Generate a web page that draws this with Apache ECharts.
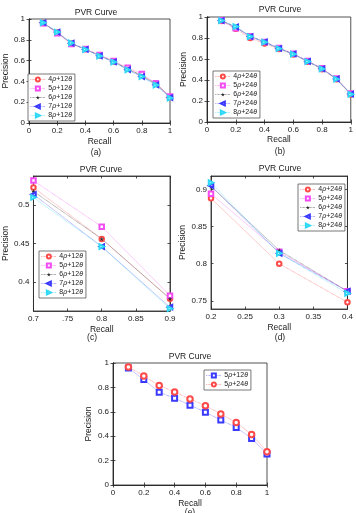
<!DOCTYPE html>
<html>
<head>
<meta charset="utf-8">
<script src="https://cdn.jsdelivr.net/npm/echarts@6/dist/echarts.min.js"></script>
<style>
  html, body { margin: 0; padding: 0; background: #fff; }
  #chart { width: 356px; height: 513px; }
</style>
</head>
<body>
<div id="chart"></div>
<script>
// recall levels
const recall = [0.1, 0.2, 0.3, 0.4, 0.5, 0.6, 0.7, 0.8, 0.9, 1.0]

// precision, 12 theta bins
const p4_12 = [0.962, 0.870, 0.762, 0.710, 0.650, 0.592, 0.523, 0.456, 0.378, 0.250]
const p5_12 = [0.958, 0.864, 0.760, 0.712, 0.654, 0.597, 0.532, 0.472, 0.382, 0.255]
const p6_12 = [0.962, 0.872, 0.765, 0.710, 0.648, 0.590, 0.518, 0.456, 0.378, 0.250]
const p7_12 = [0.964, 0.874, 0.768, 0.708, 0.646, 0.588, 0.514, 0.446, 0.367, 0.245]
const p8_12 = [0.964, 0.875, 0.770, 0.706, 0.644, 0.586, 0.510, 0.446, 0.365, 0.240]

// precision, 24 theta bins
const p4_24 = [0.962, 0.888, 0.800, 0.748, 0.696, 0.644, 0.574, 0.503, 0.408, 0.262]
const p5_24 = [0.968, 0.894, 0.816, 0.763, 0.705, 0.650, 0.582, 0.512, 0.414, 0.272]
const p6_24 = [0.966, 0.904, 0.818, 0.763, 0.702, 0.650, 0.578, 0.508, 0.412, 0.268]
const p7_24 = [0.966, 0.905, 0.814, 0.763, 0.700, 0.648, 0.578, 0.507, 0.410, 0.266]
const p8_24 = [0.966, 0.909, 0.814, 0.760, 0.698, 0.646, 0.576, 0.505, 0.408, 0.264]

// tick labels
const ticksFull = [0, 0.2, 0.4, 0.6, 0.8, 1]
const ticksCx = [0.7, 0.75, 0.8, 0.85, 0.9]
const labelsCx = ['0.7', '.75', '0.8', '0.85', '0.9']
const ticksCy = [0.4, 0.45, 0.5]
const ticksDx = [0.2, 0.25, 0.3, 0.35, 0.4]
const labelsDx = ['0.2', '0.25', '0.3', '0.35', '0.4']
const ticksDy = [0.75, 0.8, 0.85, 0.9]

const FONT = '"Liberation Sans", Arial, sans-serif'
const AXIS = '#262626'
const RED = '#ff4a4a'
const MAGENTA = '#f24cf2'
const BLACK = '#2a2a2a'
const BLUE = '#3a3aff'
const CYAN = '#2fd8f5'
const STAR = 'path://M50,0 L61,35 L98,35 L68,57 L79,91 L50,70 L21,91 L32,57 L2,35 L39,35 Z'

const panels = [
  { left: 22, top: 19, width: 148, height: 104, xmin: 0, xmax: 1, ymin: 0, ymax: 1,
    xt: ticksFull, yt: ticksFull, yGap: 12, xGap: 14 },
  { left: 207, top: 17, width: 145, height: 105, xmin: 0, xmax: 1, ymin: 0, ymax: 1,
    xt: ticksFull, yt: ticksFull, yGap: 15, xGap: 11 },
  { left: 32, top: 176, width: 138, height: 135, xmin: 0.7, xmax: 0.9, ymin: 0.362, ymax: 0.538,
    xt: ticksCx, xl: labelsCx, yt: ticksCy, yGap: 17, xGap: 14 },
  { left: 211, top: 176, width: 137, height: 133, xmin: 0.2, xmax: 0.4, ymin: 0.739, ymax: 0.918,
    xt: ticksDx, xl: labelsDx, yt: ticksDy, yGap: 20, xGap: 14 },
  { left: 113, top: 363, width: 154, height: 122, xmin: 0, xmax: 1, ymin: 0, ymax: 1,
    xt: ticksFull, yt: ticksFull, yGap: 20, xGap: 14 }
]

const styles = {
  r4: { color: RED, symbol: 'emptyCircle', rotate: 0 },
  r5: { color: MAGENTA, symbol: 'emptyRect', rotate: 0 },
  r6: { color: BLACK, symbol: STAR, rotate: 0 },
  r7: { color: BLUE, symbol: 'emptyTriangle', rotate: 90 },
  r8: { color: CYAN, symbol: 'emptyTriangle', rotate: -90 }
}

// legend label text for each series id
const labels = {}

function legendText(rho, theta) {
  return '{t|' + rho + '}{g|ρ}{t|+' + theta + '}{g|θ}'
}

function pairs(xs, ys) {
  return xs.map((x, i) => [x, ys[i]])
}

function makeSeries(id, panel, style, xs, ys, text, size) {
  labels[id] = text
  return {
    name: id,
    type: 'line',
    xAxisIndex: panel * 2,
    yAxisIndex: panel * 2,
    data: pairs(xs, ys),
    symbol: style.symbol,
    symbolRotate: style.rotate,
    symbolSize: size || 4.5,
    showSymbol: true,
    itemStyle: { color: style.color, borderWidth: 0.8 },
    lineStyle: { color: style.color, width: 0.7, type: 'dotted', opacity: 0.8 },
    emphasis: { disabled: true },
    animation: false
  }
}

const series12 = [['r4', 4, p4_12], ['r5', 5, p5_12], ['r6', 6, p6_12], ['r7', 7, p7_12], ['r8', 8, p8_12]]
const series24 = [['r4', 4, p4_24], ['r5', 5, p5_24], ['r6', 6, p6_24], ['r7', 7, p7_24], ['r8', 8, p8_24]]

const series = []
series12.forEach(([k, rho, ys]) => {
  series.push(makeSeries('a' + rho, 0, styles[k], recall, ys, legendText(rho, 12)))
})
series24.forEach(([k, rho, ys]) => {
  series.push(makeSeries('b' + rho, 1, styles[k], recall, ys, legendText(rho, 24)))
})
series12.forEach(([k, rho, ys]) => {
  series.push(makeSeries('c' + rho, 2, styles[k], recall.slice(6, 9), ys.slice(6, 9), legendText(rho, 12)))
})
series24.forEach(([k, rho, ys]) => {
  series.push(makeSeries('d' + rho, 3, styles[k], recall.slice(1, 4), ys.slice(1, 4), legendText(rho, 24)))
})
series.push(makeSeries('e12', 4, { color: BLUE, symbol: 'emptyRect', rotate: 0 }, recall, p5_12, legendText(5, 12), 5))
series.push(makeSeries('e24', 4, { color: RED, symbol: 'emptyCircle', rotate: 0 }, recall, p5_24, legendText(5, 24), 5.5))

const tickLabel = { fontFamily: FONT, fontSize: 8, color: '#1a1a1a' }

const grids = []
const xAxes = []
const yAxes = []
panels.forEach((p, i) => {
  grids.push({
    left: p.left, top: p.top, width: p.width, height: p.height,
    show: true, borderColor: AXIS, borderWidth: 0.8, backgroundColor: '#fff'
  })
  const common = {
    gridIndex: i,
    type: 'value',
    axisLine: { show: true, lineStyle: { color: AXIS, width: 0.8 } },
    axisTick: { show: true, inside: true, length: 2.5, lineStyle: { color: AXIS, width: 0.8 } },
    splitLine: { show: false }
  }
  xAxes.push({
    ...common,
    position: 'bottom',
    min: p.xmin, max: p.xmax,
    axisTick: { ...common.axisTick, customValues: p.xt },
    axisLabel: {
      ...tickLabel, margin: 4, customValues: p.xt,
      formatter: v => {
        if (!p.xl) return String(+v.toFixed(2))
        const k = p.xt.findIndex(t => Math.abs(t - v) < 1e-6)
        return k >= 0 ? p.xl[k] : ''
      }
    },
    name: 'Recall',
    nameLocation: 'middle',
    nameGap: p.xGap,
    nameTextStyle: { fontFamily: FONT, fontSize: 8.5, color: '#1a1a1a' }
  })
  xAxes.push({
    ...common,
    position: 'top',
    min: p.xmin, max: p.xmax,
    axisTick: { ...common.axisTick, customValues: p.xt },
    axisLabel: { show: false }
  })
  yAxes.push({
    ...common,
    position: 'left',
    min: p.ymin, max: p.ymax,
    axisTick: { ...common.axisTick, customValues: p.yt },
    axisLabel: {
      ...tickLabel, margin: 4, customValues: p.yt,
      formatter: v => String(+v.toFixed(2))
    },
    name: 'Precision',
    nameLocation: 'middle',
    nameGap: p.yGap,
    nameTextStyle: { fontFamily: FONT, fontSize: 8.5, color: '#1a1a1a' }
  })
  yAxes.push({
    ...common,
    position: 'right',
    min: p.ymin, max: p.ymax,
    axisTick: { ...common.axisTick, customValues: p.yt },
    axisLabel: { show: false }
  })
})

function legend(ids, left, top) {
  return {
    data: ids,
    orient: 'vertical',
    left: left,
    top: top,
    itemWidth: 15,
    itemHeight: 5,
    itemGap: 2,
    padding: [2, 3, 2, 2],
    selectedMode: false,
    backgroundColor: '#fff',
    borderColor: '#555',
    borderWidth: 0.8,
    itemStyle: { borderWidth: 0.8 },
    lineStyle: { width: 0.7 },
    formatter: name => labels[name],
    textStyle: {
      fontFamily: FONT, fontSize: 7, color: '#1a1a1a', padding: [0, 0, 0, -2],
      rich: {
        t: { fontFamily: FONT, fontSize: 7, color: '#1a1a1a' },
        g: { fontFamily: FONT, fontSize: 7, fontStyle: 'italic', color: '#1a1a1a' }
      }
    }
  }
}

const legends = [
  legend(['a4', 'a5', 'a6', 'a7', 'a8'], 28, 74),
  legend(['b4', 'b5', 'b6', 'b7', 'b8'], 213, 71),
  legend(['c4', 'c5', 'c6', 'c7', 'c8'], 39, 251),
  legend(['d4', 'd5', 'd6', 'd7', 'd8'], 298, 184),
  legend(['e12', 'e24'], 204, 370)
]

function text(str, x, y, size) {
  return {
    type: 'text', x: x, y: y, z: 10,
    style: {
      text: str, fill: '#1a1a1a', font: size + 'px ' + FONT,
      textAlign: 'center', textVerticalAlign: 'middle'
    }
  }
}

const graphics = [
  text('PVR Curve', 96, 13, 8.5),
  text('PVR Curve', 280, 10, 8.5),
  text('PVR Curve', 101, 170, 8.5),
  text('PVR Curve', 280, 169, 8.5),
  text('PVR Curve', 190, 357, 8.5),
  text('(a)', 96, 153, 8.5),
  text('(b)', 280, 152, 8.5),
  text('(c)', 92, 338, 8.5),
  text('(d)', 280, 338, 8.5),
  text('(e)', 190, 513, 8.5)
]

const chart = echarts.init(document.getElementById('chart'), null, { renderer: 'canvas' })
chart.setOption({
  animation: false,
  backgroundColor: '#fff',
  grid: grids,
  xAxis: xAxes,
  yAxis: yAxes,
  legend: legends,
  graphic: graphics,
  series: series
})
</script>
</body>
</html>
